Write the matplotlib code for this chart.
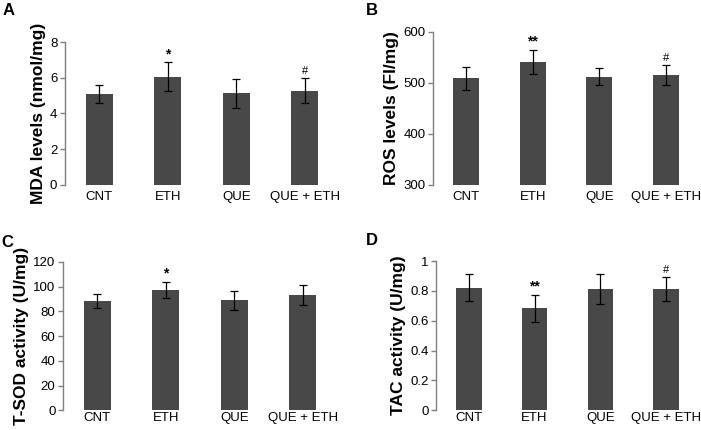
import matplotlib.pyplot as plt

plt.rcParams['font.family'] = ['Liberation Sans', 'DejaVu Sans']

groups = ['CNT', 'ETH', 'QUE', 'QUE + ETH']

# panel A: MDA
mda_mean = [5.07, 6.05, 5.13, 5.28]
mda_err = [0.50, 0.81, 0.80, 0.72]
mda_sig = ['', '*', '', '#']

# panel B: ROS
ros_mean = [509, 542, 512, 515]
ros_err = [22, 23.5, 16.5, 19.5]
ros_sig = ['', '**', '', '#']

# panel C: T-SOD
sod_mean = [88.3, 97.5, 89.0, 93.2]
sod_err = [5.5, 6.5, 7.7, 7.8]
sod_sig = ['', '*', '', '']

# panel D: TAC
tac_mean = [0.822, 0.683, 0.811, 0.811]
tac_err = [0.088, 0.090, 0.100, 0.080]
tac_sig = ['', '**', '', '#']

bar_color = '#484848'
spine_color = '#808080'

fig = plt.figure(figsize=(7.01, 4.30), dpi=100)


def panel(rect, means, errs, sigs, ylim, yticks, yticklabels, ylabel, letter, letter_xy, xpad):
    ax = fig.add_axes(rect)
    x = range(len(groups))
    ax.bar(x, means, width=0.39, color=bar_color, zorder=2)
    ax.errorbar(x, means, yerr=errs, fmt='none', ecolor='black',
                elinewidth=0.9, capsize=3, capthick=0.9, zorder=3)
    for xi, m, e, s in zip(x, means, errs, sigs):
        if s == '#':
            ax.annotate(s, (xi, m + e), xytext=(0, 1.5), textcoords='offset points',
                        ha='center', va='bottom', fontsize=8)
        elif s:
            ax.annotate(s, (xi, m + e), xytext=(0, 1), textcoords='offset points',
                        ha='center', va='bottom', fontsize=10, fontweight='bold')
    ax.set_xlim(-0.5, 3.5)
    ax.set_ylim(*ylim)
    ax.set_yticks(yticks)
    ax.set_yticklabels(yticklabels)
    ax.set_xticks(list(x))
    ax.set_xticklabels(groups)
    for sp in ['top', 'right', 'bottom']:
        ax.spines[sp].set_visible(False)
    ax.spines['left'].set_color(spine_color)
    ax.spines['left'].set_linewidth(1.0)
    ax.tick_params(axis='y', length=3.5, width=1.0, color=spine_color,
                   labelsize=9.5, pad=2)
    ax.tick_params(axis='x', length=0, labelsize=9.5, pad=xpad)
    ax.set_ylabel(ylabel, fontsize=12.5, fontweight='bold', labelpad=3)
    fig.text(letter_xy[0] / 701, 1 - letter_xy[1] / 430, letter,
             fontsize=12, fontweight='bold', ha='left', va='top')
    return ax


panel([0.0927, 0.5698, 0.391, 0.3325], mda_mean, mda_err, mda_sig,
      (0, 8), [0, 2, 4, 6, 8], ['0', '2', '4', '6', '8'],
      'MDA levels (nmol/mg)', 'A', (3, 3), 4)

panel([0.6177, 0.5698, 0.3793, 0.3558], ros_mean, ros_err, ros_sig,
      (300, 600), [300, 400, 500, 600], ['300', '400', '500', '600'],
      'ROS levels (FI/mg)', 'B', (366, 3), 4)

panel([0.0899, 0.046, 0.391, 0.3447], sod_mean, sod_err, sod_sig,
      (0, 120), [0, 20, 40, 60, 80, 100, 120],
      ['0', '20', '40', '60', '80', '100', '120'],
      'T-SOD activity (U/mg)', 'C', (1, 235), 1.5)

panel([0.622, 0.046, 0.375, 0.347], tac_mean, tac_err, tac_sig,
      (0, 1), [0, 0.2, 0.4, 0.6, 0.8, 1.0],
      ['0', '0.2', '0.4', '0.6', '0.8', '1'],
      'TAC activity (U/mg)', 'D', (366, 233), 1.5)

plt.savefig('out.png', dpi=100)
